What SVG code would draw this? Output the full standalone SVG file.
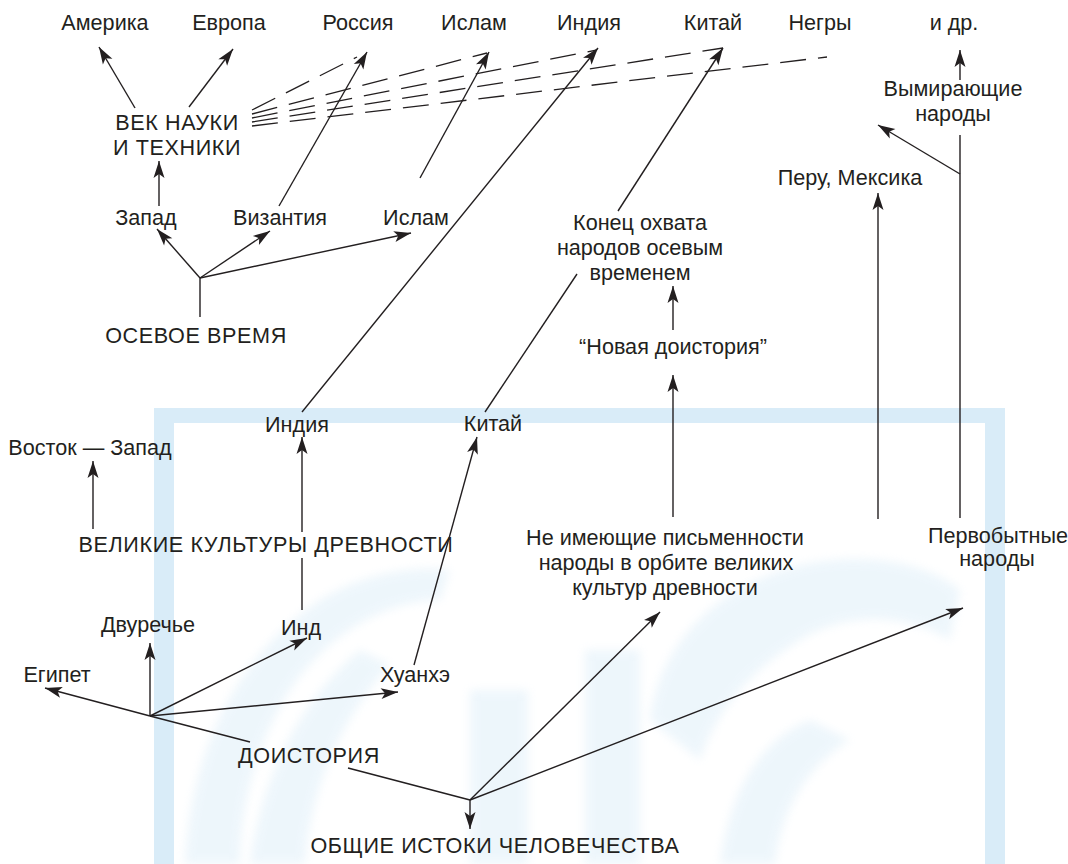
<svg xmlns="http://www.w3.org/2000/svg" width="1068" height="864" viewBox="0 0 1068 864">
  <style>
    .lbl { font-family: "Liberation Sans", Arial, sans-serif; font-size: 21.6px; fill: #231f20; text-anchor: middle; }
    .caps { letter-spacing: 0.6px; }
    .ln { stroke: #231f20; stroke-width: 1.4; fill: none; }
    .arr { stroke: #231f20; stroke-width: 1.4; fill: none; marker-end: url(#head); }
    .dash { stroke: #231f20; stroke-width: 1.3; fill: none; stroke-dasharray: 26 12; }
    .wm { fill: #d9ecf8; }
  </style>
  <defs>
    <marker id="head" markerUnits="userSpaceOnUse" markerWidth="20" markerHeight="14" viewBox="-18 -7 20 14" refX="0" refY="0" orient="auto">
      <path d="M0,0 L-17,-5.5 L-13,0 L-17,5.5 Z" fill="#231f20"/>
    </marker>
    <filter id="soft" x="-5%" y="-5%" width="110%" height="110%">
      <feGaussianBlur stdDeviation="5"/>
    </filter>
  </defs>

  <rect width="1068" height="864" fill="#ffffff"/>

  <!-- background emblem -->
  <g id="emblem">
    <path class="wm" fill-rule="evenodd" d="M154,408 H1005 V864 H154 Z M174,423 V864 H985 V423 Z"/>
    <g filter="url(#soft)" opacity="0.45">
      <path class="wm" d="M185,864 C190,760 230,660 320,600 C360,575 410,565 450,570 L440,600 C390,600 330,630 290,690 C255,745 240,810 240,864 Z"/>
      <path class="wm" d="M250,864 C260,780 300,700 360,650 L390,665 C340,720 310,790 305,864 Z"/>
      <rect class="wm" x="470" y="690" width="58" height="174"/>
      <rect class="wm" x="585" y="650" width="55" height="214"/>
      <path class="wm" d="M650,720 C660,640 720,585 800,565 C870,550 930,565 960,590 L950,640 C900,610 840,615 800,640 C760,665 720,700 700,760 Z"/>
      <path class="wm" d="M720,864 C730,790 760,740 810,720 L850,740 C800,770 780,820 775,864 Z"/>
    </g>
  </g>

  <!-- connectors -->
  <g id="connectors">
    <!-- age of science -->
    <line class="arr" x1="135" y1="108" x2="99" y2="47"/>
    <line class="arr" x1="189" y1="107" x2="233" y2="49"/>
    <line class="arr" x1="159" y1="206" x2="159" y2="161"/>
    <line class="dash" x1="252" y1="110" x2="357" y2="57"/>
    <line class="dash" x1="252" y1="114" x2="487" y2="53"/>
    <line class="dash" x1="252" y1="118" x2="597" y2="50"/>
    <line class="dash" x1="252" y1="122" x2="723" y2="48"/>
    <line class="dash" x1="252" y1="126" x2="827" y2="57"/>
    <!-- axial age -->
    <line class="ln" x1="200" y1="278" x2="200" y2="317"/>
    <line class="arr" x1="200" y1="278" x2="157" y2="229"/>
    <line class="arr" x1="200" y1="278" x2="270" y2="231"/>
    <line class="arr" x1="200" y1="278" x2="411" y2="233"/>
    <line class="arr" x1="279" y1="206" x2="367" y2="52"/>
    <line class="arr" x1="420" y1="178" x2="489" y2="52"/>
    <line class="arr" x1="302" y1="412" x2="598" y2="48"/>
    <line class="arr" x1="618" y1="211" x2="723" y2="48"/>
    <line class="ln" x1="485" y1="412" x2="577" y2="274"/>
    <!-- right branch -->
    <line class="arr" x1="960" y1="80" x2="960" y2="50"/>
    <line class="ln" x1="960" y1="135" x2="960" y2="518"/>
    <line class="arr" x1="960" y1="174" x2="878" y2="125"/>
    <line class="arr" x1="878" y1="519" x2="878" y2="193"/>
    <line class="arr" x1="673" y1="330" x2="673" y2="286"/>
    <line class="arr" x1="673" y1="517" x2="673" y2="375"/>
    <!-- great cultures -->
    <line class="arr" x1="93" y1="529" x2="93" y2="461"/>
    <line class="arr" x1="302" y1="532" x2="302" y2="437"/>
    <line class="ln" x1="302" y1="558" x2="302" y2="610"/>
    <line class="arr" x1="150" y1="716" x2="150" y2="643"/>
    <line class="arr" x1="150" y1="716" x2="45" y2="688"/>
    <line class="arr" x1="150" y1="716" x2="307" y2="638"/>
    <line class="arr" x1="150" y1="716" x2="398" y2="692"/>
    <line class="ln" x1="150" y1="716" x2="250" y2="742"/>
    <line class="arr" x1="414" y1="665" x2="477" y2="437"/>
    <!-- origins -->
    <line class="ln" x1="348" y1="768" x2="470" y2="800"/>
    <line class="arr" x1="470" y1="800" x2="470" y2="829"/>
    <line class="arr" x1="470" y1="800" x2="660" y2="612"/>
    <line class="arr" x1="470" y1="800" x2="963" y2="608"/>
  </g>

  <!-- nodes -->
  <g id="n-america"><text class="lbl" x="105" y="30">Америка</text></g>
  <g id="n-europe"><text class="lbl" x="229" y="30">Европа</text></g>
  <g id="n-russia"><text class="lbl" x="358" y="30">Россия</text></g>
  <g id="n-islam-top"><text class="lbl" x="474" y="30">Ислам</text></g>
  <g id="n-india-top"><text class="lbl" x="589" y="30">Индия</text></g>
  <g id="n-china-top"><text class="lbl" x="713" y="30">Китай</text></g>
  <g id="n-negroes"><text class="lbl" x="820" y="30">Негры</text></g>
  <g id="n-others"><text class="lbl" x="954" y="30">и др.</text></g>
  <g id="n-science"><text class="lbl caps" x="177" y="130">ВЕК НАУКИ</text><text class="lbl caps" x="177" y="155">И ТЕХНИКИ</text></g>
  <g id="n-dying"><text class="lbl" x="953" y="96">Вымирающие</text><text class="lbl" x="953" y="121">народы</text></g>
  <g id="n-peru"><text class="lbl" x="850" y="185">Перу, Мексика</text></g>
  <g id="n-west"><text class="lbl" x="146" y="225">Запад</text></g>
  <g id="n-byzantium"><text class="lbl" x="280" y="225">Византия</text></g>
  <g id="n-islam"><text class="lbl" x="416" y="225">Ислам</text></g>
  <g id="n-end"><text class="lbl" x="640" y="230">Конец охвата</text><text class="lbl" x="640" y="255">народов осевым</text><text class="lbl" x="640" y="280">временем</text></g>
  <g id="n-axial"><text class="lbl caps" x="196" y="343">ОСЕВОЕ ВРЕМЯ</text></g>
  <g id="n-newpre"><text class="lbl" x="673" y="354">“Новая доистория”</text></g>
  <g id="n-india"><text class="lbl" x="297" y="432">Индия</text></g>
  <g id="n-china"><text class="lbl" x="493" y="431">Китай</text></g>
  <g id="n-eastwest"><text class="lbl" x="90" y="455">Восток — Запад</text></g>
  <g id="n-great"><text class="lbl caps" x="266" y="552">ВЕЛИКИЕ КУЛЬТУРЫ ДРЕВНОСТИ</text></g>
  <g id="n-nowriting"><text class="lbl" x="665" y="545">Не имеющие письменности</text><text class="lbl" x="666" y="570">народы в орбите великих</text><text class="lbl" x="665" y="595">культур древности</text></g>
  <g id="n-primitive"><text class="lbl" x="998" y="543">Первобытные</text><text class="lbl" x="997" y="566">народы</text></g>
  <g id="n-mesopotamia"><text class="lbl" x="148" y="632">Двуречье</text></g>
  <g id="n-indus"><text class="lbl" x="301" y="635">Инд</text></g>
  <g id="n-egypt"><text class="lbl" x="57" y="682">Египет</text></g>
  <g id="n-huanghe"><text class="lbl" x="415" y="682">Хуанхэ</text></g>
  <g id="n-prehistory"><text class="lbl caps" x="309" y="763">ДОИСТОРИЯ</text></g>
  <g id="n-origins"><text class="lbl caps" x="495" y="853">ОБЩИЕ ИСТОКИ ЧЕЛОВЕЧЕСТВА</text></g>
</svg>
